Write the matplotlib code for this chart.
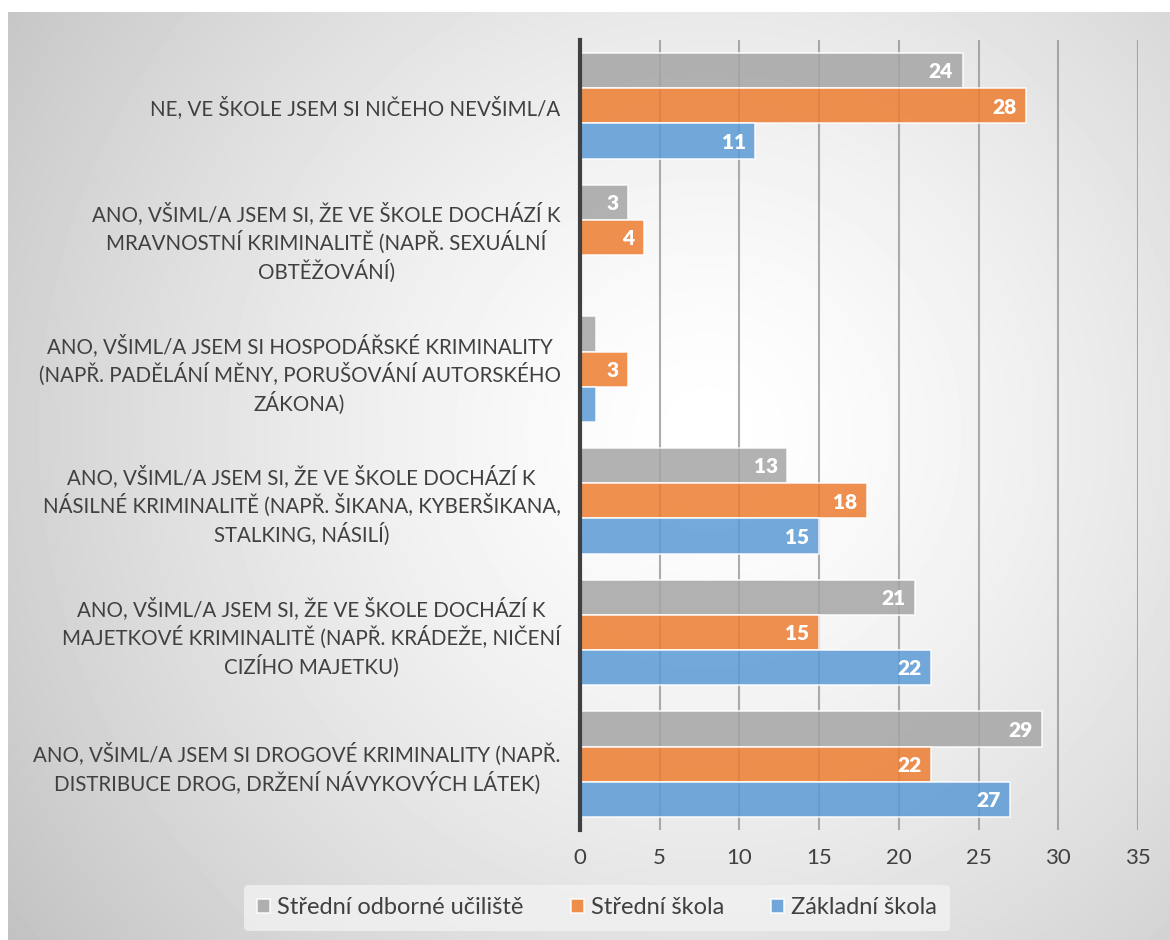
import matplotlib.pyplot as plt
import numpy as np

categories = [
    "NE, VE ŠKOLE JSEM SI NIČEHO NEVŠIML/A",
    "ANO, VŠIML/A JSEM SI, ŽE VE ŠKOLE DOCHÁZÍ K\nMRAVNOSTNÍ KRIMINALITĚ (NAPŘ. SEXUÁLNÍ\nOBTĚŽOVÁNÍ)",
    "ANO, VŠIML/A JSEM SI HOSPODÁŘSKÉ KRIMINALITY\n(NAPŘ. PADĚLÁNÍ MĚNY, PORUŠOVÁNÍ AUTORSKÉHO\nZÁKONA)",
    "ANO, VŠIML/A JSEM SI, ŽE VE ŠKOLE DOCHÁZÍ K\nNÁSILNÉ KRIMINALITĚ (NAPŘ. ŠIKANA, KYBERŠIKANA,\nSTALKING, NÁSILÍ)",
    "ANO, VŠIML/A JSEM SI, ŽE VE ŠKOLE DOCHÁZÍ K\nMAJETKOVÉ KRIMINALITĚ (NAPŘ. KRÁDEŽE, NIČENÍ\nCIZÍHO MAJETKU)",
    "ANO, VŠIML/A JSEM SI DROGOVÉ KRIMINALITY (NAPŘ.\nDISTRIBUCE DROG, DRŽENÍ NÁVYKOVÝCH LÁTEK)",
]
series_names = ["Střední odborné učiliště", "Střední škola", "Základní škola"]
sou = [24, 3, 1, 13, 21, 29]
ss = [28, 4, 3, 18, 15, 22]
zs = [11, 0, 1, 15, 22, 27]
colors = ["#A5A5A5", "#ED7D31", "#5B9BD5"]

plt.rcParams["font.family"] = ["Lato", "DejaVu Sans"]

fig = plt.figure(figsize=(11.7, 9.4), dpi=100)

# radial gradient background
bg = fig.add_axes([8 / 1170, 0, 1 - 8 / 1170, 1 - 12 / 940])
yy, xx = np.mgrid[0:928, 0:1162]
d = np.hypot(xx - 700, yy - 420)
d = d / d.max()
shade = 1 - 0.24 * d ** 1.4
bg.imshow(shade, cmap="gray", vmin=0, vmax=1, aspect="auto", interpolation="bilinear")
bg.axis("off")

ax = fig.add_axes([580 / 1170, 1 - 830 / 940, 558 / 1170, 790 / 940])
ax.patch.set_alpha(0)

y = np.arange(len(categories))
h = 0.267
for i, (vals, col, name) in enumerate(zip([sou, ss, zs], colors, series_names)):
    pos = y + (i - 1) * h
    ax.barh(pos, vals, height=h, color=col, alpha=0.85, edgecolor="white",
            linewidth=1.2, label=name, zorder=3)
    for p, v in zip(pos, vals):
        if v >= 3:
            ax.text(v - 0.6, p + 0.01, str(v), ha="right", va="center", color="white",
                    fontsize=15, fontweight="heavy", zorder=4)

ax.set_xlim(0, 35)
ax.set_ylim(len(categories) - 0.5, -0.5)
ax.set_xticks(range(0, 36, 5))
ax.grid(axis="x", color="#8c8c8c", linewidth=1.5, alpha=0.7, zorder=1)
ax.set_yticks(y)
ax.set_yticklabels(categories, fontsize=14.8, color="#404040", multialignment="center",
                   linespacing=1.3)
ax.tick_params(axis="y", length=0, pad=14)
ax.tick_params(axis="x", length=0, labelsize=16, labelcolor="#404040", pad=13)
for s in ["top", "right", "bottom"]:
    ax.spines[s].set_visible(False)
ax.spines["left"].set_color("#404040")
ax.spines["left"].set_linewidth(3)
ax.spines["left"].set_zorder(5)

leg = fig.legend(loc="center", bbox_to_anchor=(597 / 1170, 1 - 908 / 940), ncol=3,
                 frameon=True, fontsize=17, handlelength=0.55, handleheight=0.55,
                 columnspacing=2.0, handletextpad=0.3, borderpad=0.55)
leg.get_frame().set_facecolor("#f2f2f2")
leg.get_frame().set_edgecolor("none")
leg.get_frame().set_alpha(0.8)
for t in leg.get_texts():
    t.set_color("#404040")

fig.savefig("out.png", dpi=100)
